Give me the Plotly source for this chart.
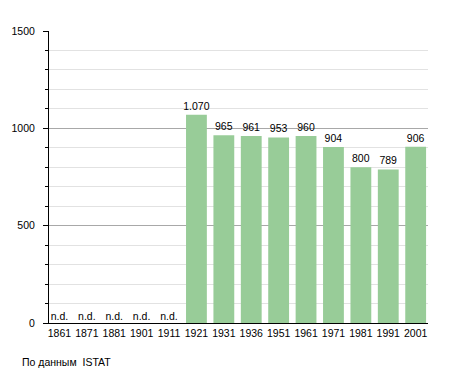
import plotly.graph_objects as go

years = ["1861", "1871", "1881", "1901", "1911", "1921", "1931", "1936",
         "1951", "1961", "1971", "1981", "1991", "2001"]
population = [None, None, None, None, None, 1070, 965, 961, 953, 960, 904, 800, 789, 906]
missing_label = "n.d."
source_note = "По данным  ISTAT"

def fmt(v):
    return f"{v:,}".replace(",", ".")

bar_text = [fmt(v) if v is not None else "" for v in population]
nd_x = [y for y, v in zip(years, population) if v is None]
nd_y = [0 for _ in nd_x]
nd_text = [missing_label for _ in nd_x]

FONT = "Liberation Sans, Arial, sans-serif"
FS = 10.5

fig = go.Figure()
fig.add_trace(go.Bar(
    x=years, y=population, text=bar_text, textposition="outside",
    constraintext="none",
    textfont=dict(family=FONT, size=FS, color="#000"),
    marker=dict(color="#98cc98", line=dict(width=0)),
    cliponaxis=False, hoverinfo="skip",
))
fig.add_trace(go.Scatter(
    x=nd_x, y=nd_y, mode="text", text=nd_text, textposition="top center",
    textfont=dict(family=FONT, size=FS, color="#000"),
    cliponaxis=False, hoverinfo="skip",
))

# page body has an 8px default margin, so the figure is offset by (8, 8)
fig.update_layout(
    width=447, height=365,
    margin=dict(l=41, r=27, t=23, b=50, autoexpand=False),
    paper_bgcolor="white", plot_bgcolor="white",
    showlegend=False, bargap=0.24,
    font=dict(family=FONT, size=FS, color="#000"),
    xaxis=dict(
        type="category", range=[-0.38, 13.45],
        showgrid=False, showline=True, linecolor="#000",
        linewidth=1, ticks="", ticklen=0, tickfont=dict(size=FS),
        ticklabelstandoff=0, fixedrange=True,
    ),
    yaxis=dict(
        range=[0, 1500], tickvals=[0, 500, 1000, 1500],
        ticks="outside", ticklen=5, tickcolor="#000", tickwidth=1,
        showline=True, linecolor="#000", linewidth=1,
        showgrid=True, gridcolor="#a8a8a8", gridwidth=1,
        zeroline=False, tickfont=dict(size=FS), ticklabelstandoff=6,
        minor=dict(dtick=100, ticks="outside", ticklen=3, tickcolor="#000",
                   showgrid=True, gridcolor="#e2e2e2", gridwidth=1),
        fixedrange=True,
    ),
    annotations=[dict(
        text=source_note, xref="paper", yref="paper", x=0, y=0,
        xanchor="left", yanchor="middle", showarrow=False,
        xshift=-29, yshift=-39, font=dict(family=FONT, size=FS, color="#000"),
    )],
)

fig.write_html("out.html")
